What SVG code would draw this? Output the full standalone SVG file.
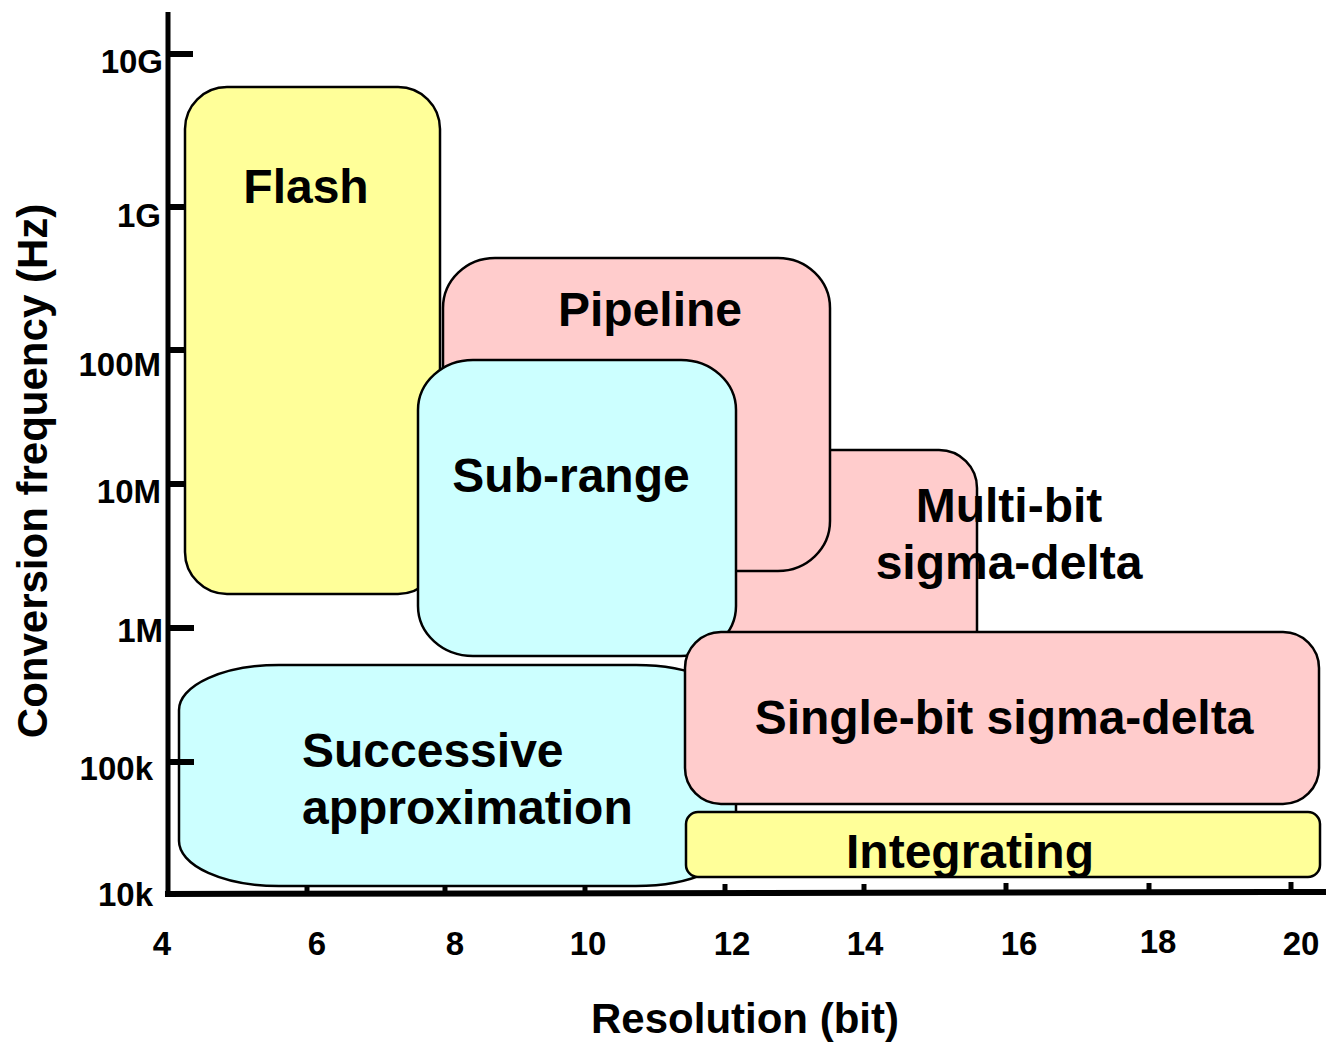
<svg xmlns="http://www.w3.org/2000/svg" width="1326" height="1042" viewBox="0 0 1326 1042">
<style>
.box{stroke:#000;stroke-width:2.5}
.y{fill:#FFFF99}
.p{fill:#FFCCCC}
.c{fill:#CCFFFF}
.lbl{font-family:"Liberation Sans",Arial,sans-serif;font-weight:bold;font-size:48px;fill:#000}
.tick{font-family:"Liberation Sans",Arial,sans-serif;font-weight:bold;font-size:33px;fill:#000}
.title{font-family:"Liberation Sans",Arial,sans-serif;font-weight:bold;font-size:42px;fill:#000}
.ax{stroke:#000;fill:none}
</style>
<rect width="1326" height="1042" fill="#fff"/>
<g id="flash">
<rect class="box y" x="185" y="87" width="255" height="507" rx="42" ry="42"/>
<text class="lbl" x="306" y="203" text-anchor="middle">Flash</text>
</g>
<g id="multibit">
<rect class="box p" x="700" y="450" width="277" height="250" rx="38" ry="38"/>
</g>
<g id="pipeline">
<rect class="box p" x="443" y="258" width="387" height="313" rx="52" ry="50"/>
<text class="lbl" x="650" y="326" text-anchor="middle">Pipeline</text>
</g>
<g id="subrange">
<rect class="box c" x="418" y="360" width="318" height="296" rx="55" ry="50"/>
<text class="lbl" x="571" y="492" text-anchor="middle">Sub-range</text>
</g>
<g id="sar">
<path class="box c" d="M279 665 H636 A100 45 0 0 1 736 710 V841 A100 45 0 0 1 636 886 H279 A100 45 0 0 1 179 841 V710 A100 45 0 0 1 279 665 Z"/>
<text class="lbl" x="302" y="767">Successive</text>
<text class="lbl" x="302" y="824">approximation</text>
</g>
<g id="singlebit">
<rect class="box p" x="685" y="632" width="634" height="172" rx="36" ry="36"/>
<text class="lbl" x="1004" y="734" text-anchor="middle">Single-bit sigma-delta</text>
</g>
<g id="integrating">
<rect class="box y" x="686" y="812" width="634" height="65" rx="12" ry="12"/>
<text class="lbl" x="970" y="868" text-anchor="middle">Integrating</text>
</g>
<g id="multibit-label">
<text class="lbl" x="1009" y="522" text-anchor="middle">Multi-bit</text>
<text class="lbl" x="1009" y="579" text-anchor="middle">sigma-delta</text>
</g>
<g id="axes">
<line class="ax" x1="168" y1="12" x2="168" y2="897" stroke-width="5"/>
<line class="ax" x1="165" y1="894" x2="1326" y2="892" stroke-width="6"/>
<g stroke="#000" stroke-width="6">
<line x1="168" y1="54" x2="193" y2="54"/>
<line x1="168" y1="207" x2="185" y2="207"/>
<line x1="168" y1="350" x2="185" y2="350"/>
<line x1="168" y1="484" x2="185" y2="484"/>
<line x1="168" y1="628" x2="194" y2="628"/>
<line x1="168" y1="762" x2="194" y2="762"/>
</g>
<g stroke="#000" stroke-width="5">
<line x1="307" y1="885" x2="307" y2="893"/>
<line x1="445" y1="885" x2="445" y2="893"/>
<line x1="585" y1="885" x2="585" y2="893"/>
<line x1="725" y1="884" x2="725" y2="893"/>
<line x1="864" y1="884" x2="864" y2="893"/>
<line x1="1006" y1="883" x2="1006" y2="892"/>
<line x1="1149" y1="883" x2="1149" y2="892"/>
<line x1="1291" y1="882" x2="1291" y2="892"/>
</g>
</g>
<g id="ylabels" text-anchor="end">
<text class="tick" x="163" y="73">10G</text>
<text class="tick" x="161" y="227">1G</text>
<text class="tick" x="161" y="376">100M</text>
<text class="tick" x="161" y="503">10M</text>
<text class="tick" x="163" y="642">1M</text>
<text class="tick" x="153" y="780">100k</text>
<text class="tick" x="153" y="906">10k</text>
</g>
<g id="xlabels" text-anchor="middle">
<text class="tick" x="162" y="955">4</text>
<text class="tick" x="317" y="955">6</text>
<text class="tick" x="455" y="955">8</text>
<text class="tick" x="588" y="955">10</text>
<text class="tick" x="732" y="955">12</text>
<text class="tick" x="865" y="955">14</text>
<text class="tick" x="1019" y="955">16</text>
<text class="tick" x="1158" y="953">18</text>
<text class="tick" x="1301" y="955">20</text>
</g>
<text class="title" x="745" y="1033" text-anchor="middle">Resolution (bit)</text>
<text class="title" transform="translate(47 471) rotate(-90)" text-anchor="middle">Conversion frequency (Hz)</text>
</svg>
